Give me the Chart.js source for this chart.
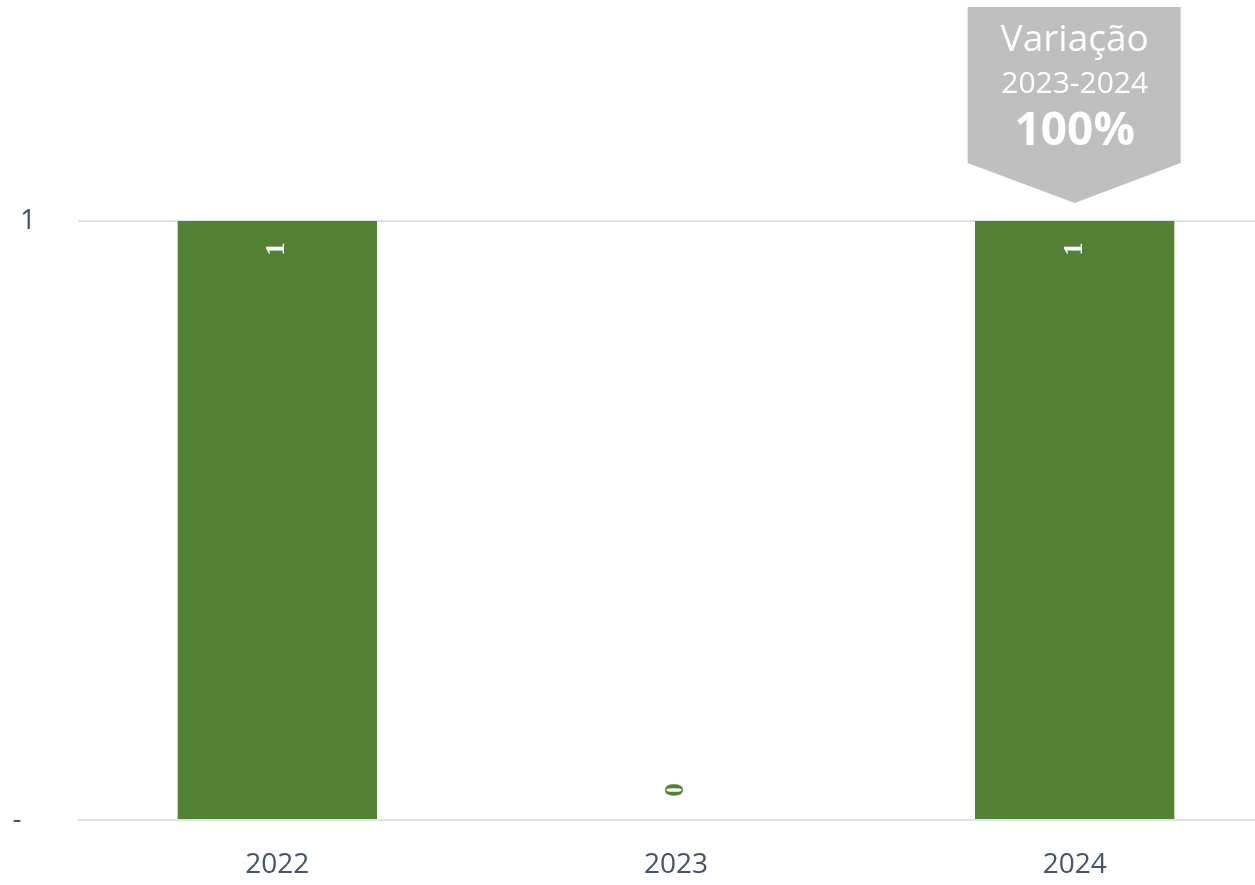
<!DOCTYPE html>
<html>
<head>
<meta charset="utf-8">
<script src="https://cdn.jsdelivr.net/npm/chart.js@4"></script>
<style>
  html, body { margin: 0; padding: 0; background: #fff; overflow: hidden; }
  #wrap { width: 1274px; height: 885px; }
</style>
</head>
<body>
<div id="wrap"><canvas id="barChart"></canvas></div>
<script>
const years = ['2022', '2023', '2024'];
const counts = [1, 0, 1];
const yTickText = { 0: '-  ', 1: '1' };
const calloutLines = ['Variação', '2023-2024', '100%'];

const barColor = '#548235';
const axisColor = '#44546A';

// rotated value labels on the bars
const valueLabels = {
    id: 'valueLabels',
    afterDatasetsDraw(chart) {
        const ctx = chart.ctx;
        const meta = chart.getDatasetMeta(0);
        meta.data.forEach((bar, i) => {
            const v = counts[i];
            const inside = v > 0;
            const y = inside ? bar.y + 28 : bar.y - 30;
            ctx.save();
            ctx.translate(bar.x, y);
            ctx.rotate(-Math.PI / 2);
            ctx.font = 'bold 27px "Liberation Serif", serif';
            ctx.fillStyle = inside ? '#ffffff' : barColor;
            ctx.textAlign = 'center';
            ctx.textBaseline = 'middle';
            ctx.fillText(String(v), 0, 0);
            ctx.restore();
        });
    }
};

// grey arrow box above the last bar
const variationBox = {
    id: 'variationBox',
    afterDraw(chart) {
        const ctx = chart.ctx;
        const cx = chart.scales.x.getPixelForValue(2);
        const left = cx - 107, right = cx + 106;
        const top = 7, shoulder = 163, tip = 203;
        ctx.save();
        ctx.fillStyle = '#BFBFBF';
        ctx.beginPath();
        ctx.moveTo(left, top);
        ctx.lineTo(right, top);
        ctx.lineTo(right, shoulder);
        ctx.lineTo(cx, tip);
        ctx.lineTo(left, shoulder);
        ctx.closePath();
        ctx.fill();
        ctx.fillStyle = '#ffffff';
        ctx.textAlign = 'center';
        ctx.textBaseline = 'middle';
        ctx.font = '37px "Open Sans", sans-serif';
        ctx.fillText(calloutLines[0], cx, 40);
        ctx.font = '30px "Open Sans", sans-serif';
        ctx.fillText(calloutLines[1], cx, 84);
        ctx.font = 'bold 46px "Open Sans", sans-serif';
        ctx.fillText(calloutLines[2], cx, 132);
        ctx.restore();
    }
};

new Chart(document.getElementById('barChart').getContext('2d'), {
    type: 'bar',
    data: {
        labels: years,
        datasets: [{
            data: counts,
            backgroundColor: barColor,
            borderWidth: 0,
            barPercentage: 0.5,
            categoryPercentage: 1
        }]
    },
    options: {
        responsive: true,
        maintainAspectRatio: false,
        animation: false,
        layout: { padding: { top: 221, right: 0, bottom: 3, left: 0 } },
        plugins: {
            legend: { display: false },
            tooltip: { enabled: false }
        },
        scales: {
            x: {
                afterFit(scale) { scale.height = 62; },
                grid: { display: false },
                border: { display: false },
                ticks: {
                    color: axisColor,
                    font: { family: '"Open Sans", sans-serif', size: 28 },
                    padding: 20
                }
            },
            y: {
                min: 0,
                max: 1,
                afterFit(scale) { scale.width = 78; },
                grid: { color: '#DFE2E8', lineWidth: 2, drawTicks: false },
                border: { display: false },
                ticks: {
                    stepSize: 1,
                    color: axisColor,
                    padding: 42,
                    font: { family: '"Open Sans", sans-serif', size: 28 },
                    callback: v => yTickText[v]
                }
            }
        }
    },
    plugins: [valueLabels, variationBox]
});
</script>
</body>
</html>
